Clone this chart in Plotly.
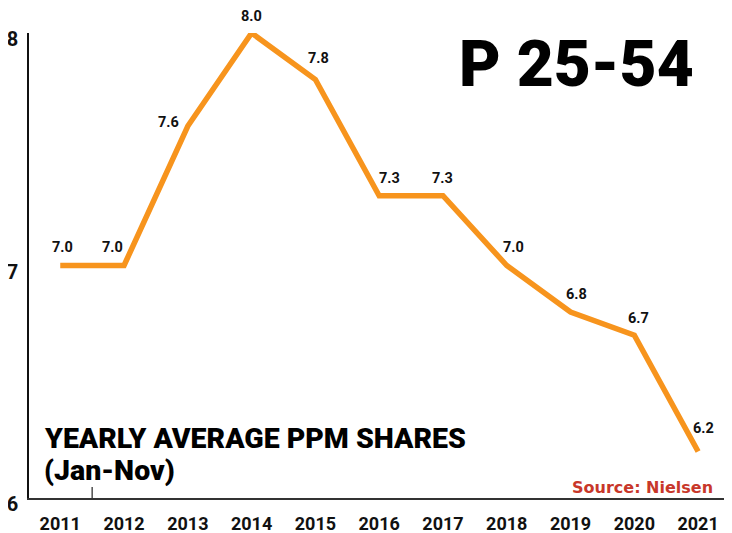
import plotly.graph_objects as go

years = [2011, 2012, 2013, 2014, 2015, 2016, 2017, 2018, 2019, 2020, 2021]
shares = [7.0, 7.0, 7.6, 8.0, 7.8, 7.3, 7.3, 7.0, 6.8, 6.7, 6.2]
y_ticks = [6, 7, 8]
year_labels = [str(y) for y in years]

# label offsets in px (styling)
label_dx = [2, -12, -19, 0, 3, 10, 0, 7, 6, 4, 5]
label_dy = [18, 18, 4, 17, 21, 17, 17, 18, 18, 17, 23]

LINE = "#F7941D"
FONT = "Roboto, Liberation Sans, sans-serif"

fig = go.Figure()
fig.add_trace(go.Scatter(
    x=years, y=shares, mode="lines",
    line=dict(color=LINE, width=5.5),
    hoverinfo="skip", showlegend=False, cliponaxis=False,
))

for x, y, dx, dy in zip(years, shares, label_dx, label_dy):
    fig.add_annotation(x=x, y=y, text=f"{y:.1f}", showarrow=False,
                       xshift=dx, yshift=dy,
                       font=dict(family=FONT, size=14.5, color="#111", weight="bold"))

fig.add_annotation(xref="paper", yref="paper", x=0.951, y=1.0, yshift=-31,
                   xanchor="right", yanchor="middle", text="P 25-54", showarrow=False,
                   font=dict(family=FONT, size=64, color="#000", weight=900))
fig.add_annotation(xref="paper", yref="paper", x=0.019, y=0.0, yshift=60,
                   xanchor="left", yanchor="middle", align="left",
                   text="YEARLY AVERAGE PPM SHARES", showarrow=False,
                   font=dict(family=FONT, size=28.5, color="#000", weight=900))
fig.add_annotation(xref="paper", yref="paper", x=0.019, y=0.0, yshift=28,
                   xanchor="left", yanchor="middle", align="left",
                   text="(Jan-Nov)", showarrow=False,
                   font=dict(family=FONT, size=28.5, color="#000", weight=900))
fig.add_annotation(xref="paper", yref="paper", x=0.979, y=0.0, yshift=11,
                   xanchor="right", yanchor="middle",
                   text="Source: Nielsen", showarrow=False,
                   font=dict(family="DejaVu Sans, sans-serif", size=16, color="#C8372A", weight="bold"))

# small inward tick on the x axis
fig.add_shape(type="line", xref="x", yref="paper", x0=2011.5, x1=2011.5,
              y0=0, y1=0.0236, line=dict(color="#333", width=1.3))

fig.update_layout(
    width=732, height=533,
    margin=dict(l=21, r=10, t=25, b=43),
    paper_bgcolor="white", plot_bgcolor="white",
    xaxis=dict(range=[2010.51, 2021.5], tickvals=years, ticktext=year_labels,
               showgrid=False, zeroline=False, showline=True, linecolor="#333",
               linewidth=1.5, ticks="", ticklabelstandoff=9, automargin=False,
               tickfont=dict(family=FONT, size=18, color="#111", weight="bold")),
    yaxis=dict(range=[6, 8], tickvals=y_ticks, ticktext=[str(v) for v in y_ticks],
               showgrid=False, zeroline=False, showline=True, linecolor="#111",
               linewidth=1.5, ticks="", ticklabelshift=6, ticklabelstandoff=5,
               automargin=False,
               tickfont=dict(family=FONT, size=20, color="#111", weight="bold")),
)

fig.write_html("out.html")
